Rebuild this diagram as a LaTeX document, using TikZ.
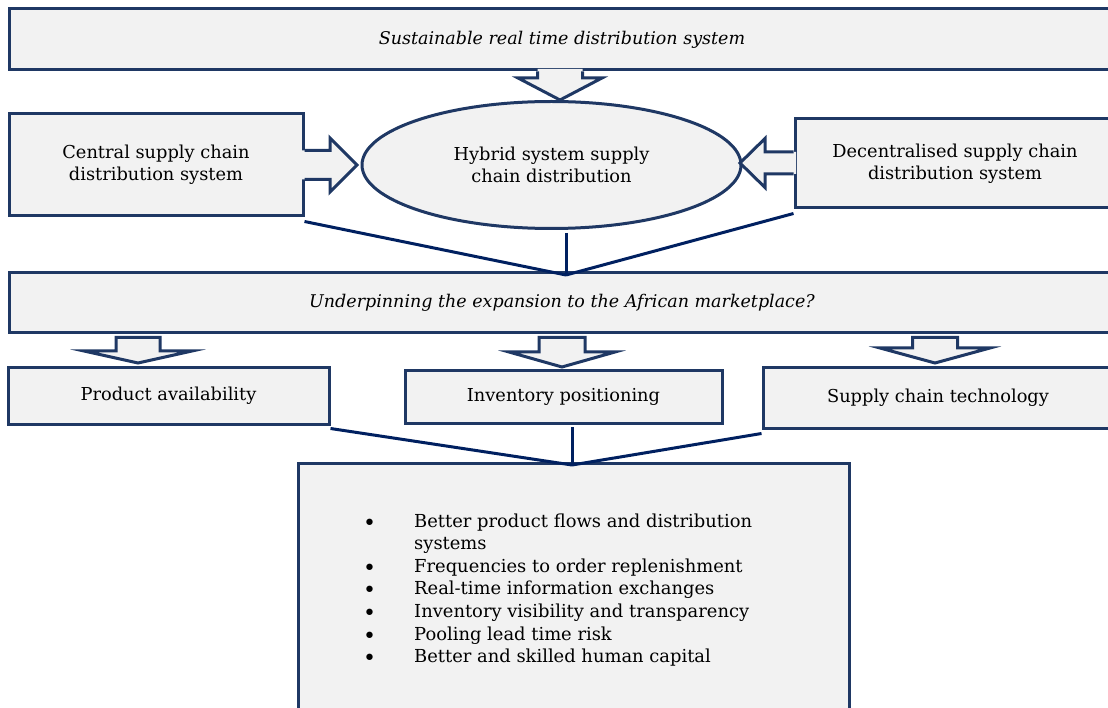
\documentclass[tikz,border=0pt]{standalone}
\usepackage{fontspec}
\setmainfont{DejaVu Serif}
\usetikzlibrary{shapes.geometric,calc}

\definecolor{boxline}{HTML}{1F3864}
\definecolor{boxfill}{HTML}{F2F2F2}
\definecolor{linkline}{HTML}{002060}

\tikzset{
    box/.style={draw=boxline, fill=boxfill, line width=3pt, inner sep=0pt, align=center},
    link/.style={draw=linkline, line width=3pt},
    blockline/.style={draw=boxline, line width=3pt, line join=miter},
}
\newcommand{\listdot}{\raisebox{-3pt}{\fontsize{22}{22.6}\selectfont\textbullet}}

% open block arrow, vertical: #1 edge point, #2 tip, #3 half shaft, #4 half head, #5 head length
\newcommand{\vblock}[5]{%
    \fill[boxfill] let \p1=(#1), \p2=(#2) in
        (\x2-#3,\y1+2.5pt) -- (\x2-#3,\y2+#5) -- (\x2-#4,\y2+#5) -- (\p2)
        -- (\x2+#4,\y2+#5) -- (\x2+#3,\y2+#5) -- (\x2+#3,\y1+2.5pt) -- cycle;
    \draw[blockline] let \p1=(#1), \p2=(#2) in
        (\x2-#3,\y1) -- (\x2-#3,\y2+#5) -- (\x2-#4,\y2+#5) -- (\p2)
        -- (\x2+#4,\y2+#5) -- (\x2+#3,\y2+#5) -- (\x2+#3,\y1);
}
% closed block arrow below a box
\newcommand{\vblockclosed}[5]{%
    \draw[blockline, fill=boxfill] let \p1=(#1), \p2=(#2) in
        (\x2-#3,\y1-3pt) -- (\x2-#3,\y2+#5) -- (\x2-#4,\y2+#5) -- (\p2)
        -- (\x2+#4,\y2+#5) -- (\x2+#3,\y2+#5) -- (\x2+#3,\y1-3pt) -- cycle;
}
% open block arrow, horizontal: #5 signed head length, #6 signed overlap into the box
\newcommand{\hblock}[6]{%
    \fill[boxfill] let \p1=(#1), \p2=(#2) in
        (\x1+#6,\y2-#3) -- (\x2+#5,\y2-#3) -- (\x2+#5,\y2-#4) -- (\p2)
        -- (\x2+#5,\y2+#4) -- (\x2+#5,\y2+#3) -- (\x1+#6,\y2+#3) -- cycle;
    \draw[blockline] let \p1=(#1), \p2=(#2) in
        (\x1,\y2-#3) -- (\x2+#5,\y2-#3) -- (\x2+#5,\y2-#4) -- (\p2)
        -- (\x2+#5,\y2+#4) -- (\x2+#5,\y2+#3) -- (\x1,\y2+#3);
}

\begin{document}
\begin{tikzpicture}[x=1pt, y=-1pt, font=\fontsize{17.8}{22}\selectfont]
    \useasboundingbox (0,0) rectangle (1108,708);
    \clip (0,0) rectangle (1108,708);

    % Top row
    \node[box, minimum width=1106pt, minimum height=61pt] (sust) at (562,39.5)
        {\fontsize{17.5}{22}\selectfont\itshape Sustainable real time distribution system};
    \node[box, minimum width=294pt, minimum height=102pt] (central) at (156,165)
        {Central supply chain\\distribution system};
    \node[box, ellipse, minimum width=379pt, minimum height=127pt] (hybrid) at (551.5,165)
        {Hybrid system supply\\chain distribution};
    \node[box, minimum width=320pt, minimum height=89pt] (decentral) at (955,163.5)
        {Decentralised supply chain\\distribution system};

    \coordinate (tiptop) at (560,100);
    \coordinate (tipleft) at (357,165);
    \coordinate (tipright) at (740,163);
    \vblock{tiptop |- sust.south}{tiptop}{22.5pt}{42pt}{22pt}
    \hblock{tipleft -| central.east}{tipleft}{14.5pt}{27pt}{-27pt}{-2.5pt}
    \hblock{tipright -| decentral.west}{tipright}{11pt}{24.5pt}{25pt}{2.5pt}

    % Question
    \node[box, minimum width=1106pt, minimum height=60pt] (under) at (562,303)
        {\fontsize{17.5}{22}\selectfont\itshape Underpinning the expansion to the African marketplace?};

    \coordinate (join1) at (566,275);
    \draw[link] ([yshift=-4pt]central.south east) -- (join1);
    \draw[link] ([yshift=-4pt]decentral.south west) -- (join1);
    \draw[link] (join1 |- 0,233) -- (join1);

    % Factors
    \node[box, minimum width=321pt, minimum height=56pt] (prod) at (168.5,396) {Product availability};
    \node[box, minimum width=317pt, minimum height=52pt] (inv) at (563.5,397) {Inventory positioning};
    \node[box, minimum width=350pt, minimum height=60pt] (tech) at (938,398) {Supply chain technology};

    \coordinate (tipprod) at (138,363);
    \coordinate (tipinv) at (562,367);
    \coordinate (tiptech) at (935,363);
    \vblockclosed{tipprod |- under.south}{tipprod}{22pt}{54pt}{12pt}
    \vblockclosed{tipinv |- under.south}{tipinv}{23pt}{53pt}{15pt}
    \vblockclosed{tiptech |- under.south}{tiptech}{22.5pt}{55pt}{15pt}

    % Outcomes
    \node[box, minimum width=551pt, minimum height=260pt] (gains) at (573.5,593) {};
    \node[anchor=base west, inner sep=0pt, font=\fontsize{17.9}{22.6}\selectfont] (list) at (363,527) {%
        \begin{tabular}[t]{@{}p{51pt}@{}l@{}}
        \listdot & Better product flows and distribution\\
                 & systems\\
        \listdot & Frequencies to order replenishment\\
        \listdot & Real-time information exchanges\\
        \listdot & Inventory visibility and transparency\\
        \listdot & Pooling lead time risk\\
        \listdot & Better and skilled human capital
        \end{tabular}};

    \coordinate (join2) at (572,465);
    \draw[link] ([yshift=-3pt]prod.south east) -- (join2);
    \draw[link] ([yshift=-4pt]tech.south west) -- (join2);
    \draw[link] (join2 |- 0,427) -- (join2);
\end{tikzpicture}
\end{document}
